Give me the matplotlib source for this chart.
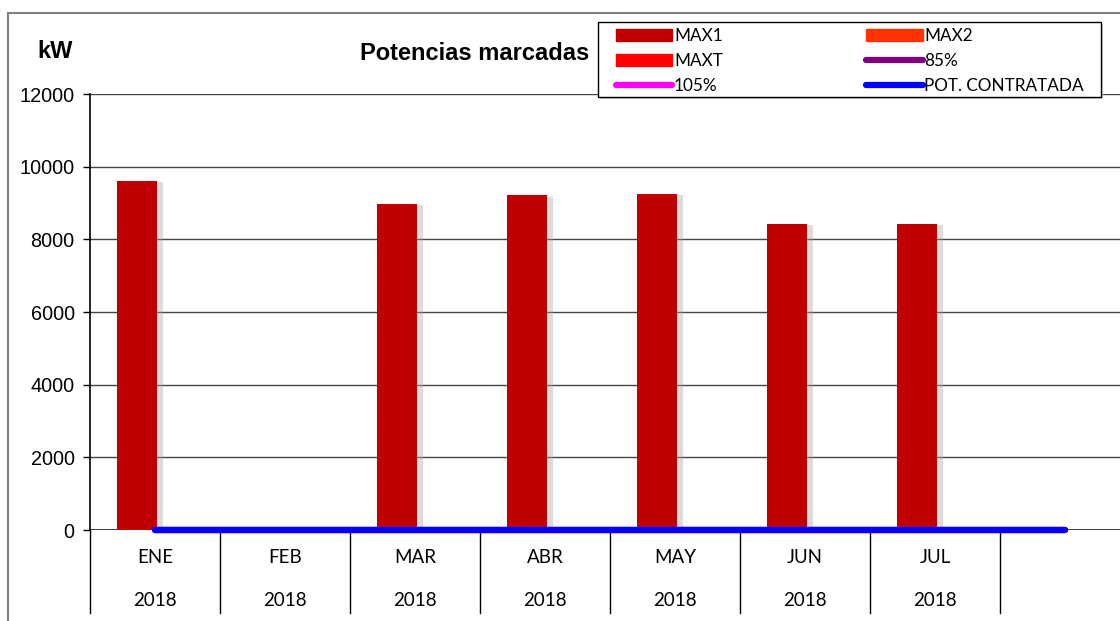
import matplotlib
matplotlib.use("Agg")
import matplotlib.pyplot as plt
import matplotlib.patheffects as pe
from matplotlib.patches import Patch, Rectangle
from matplotlib.lines import Line2D
from matplotlib.transforms import blended_transform_factory

# data
months = ["ENE", "FEB", "MAR", "ABR", "MAY", "JUN", "JUL", ""]
years = ["2018", "2018", "2018", "2018", "2018", "2018", "2018", ""]
max1 = [9610, 0, 8975, 9215, 9250, 8425, 8425]
max2 = [0, 0, 0, 0, 0, 0, 0]
maxt = [0, 0, 0, 0, 0, 0, 0]
pct85 = [0, 0, 0, 0, 0, 0, 0, 0]
pct105 = [0, 0, 0, 0, 0, 0, 0, 0]
pot_contratada = [0, 0, 0, 0, 0, 0, 0, 0]
yticks = [0, 2000, 4000, 6000, 8000, 10000, 12000]

c_max1 = "#C00000"
c_max2 = "#FF3300"
c_maxt = "#FF0000"
c_85 = "#800080"
c_105 = "#FF00FF"
c_pot = "#0000FF"

W, H = 1120, 621
fig = plt.figure(figsize=(W / 100, H / 100), dpi=100)
ax = fig.add_axes([90 / W, 91 / H, 1040 / W, 436 / H])

xs = range(len(max1))
shadow = [pe.SimplePatchShadow(offset=(4, -1), shadow_rgbFace="#a8a8a8", alpha=0.4), pe.Normal()]
bw = 0.31
ax.bar([x - 0.138 for x in xs], max1, width=bw, color=c_max1, zorder=3, path_effects=shadow)
ax.bar([x + 0.172 for x in xs], max2, width=bw, color=c_max2, zorder=3, linewidth=0)
ax.bar([x + 0.482 for x in xs], maxt, width=bw, color=c_maxt, zorder=3, linewidth=0)

xl = range(len(pot_contratada))
ax.plot(xl, pct85, color=c_85, lw=4.5, solid_capstyle="round", zorder=4, clip_on=False)
ax.plot(xl, pct105, color=c_105, lw=4.5, solid_capstyle="round", zorder=4, clip_on=False)
ax.plot(xl, pot_contratada, color=c_pot, lw=4.5, solid_capstyle="round", zorder=5, clip_on=False)

ax.set_xlim(-0.5, 7.5)
ax.set_ylim(0, 12000)
ax.set_yticks(yticks)
ax.set_yticklabels([str(v) for v in yticks], fontsize=14.3, family="Liberation Sans")
ax.set_xticks([])
ax.tick_params(axis="y", direction="out", length=5, width=1, pad=6)
ax.yaxis.grid(True, color="#444444", lw=1)
ax.set_axisbelow(True)
for s in ["top", "right", "bottom"]:
    ax.spines[s].set_visible(False)
ax.spines["left"].set_linewidth(1.2)
ax.axhline(0, color="#222222", lw=1.2, zorder=2)

# category table below the axis
tr = blended_transform_factory(ax.transData, ax.transAxes)
for i in range(len(months)):
    ax.text(i, -0.064, months[i], transform=tr, ha="center", va="center", fontsize=13.5, family="Lato")
    ax.text(i, -0.161, years[i], transform=tr, ha="center", va="center", fontsize=13.5, family="Lato")
for i in range(len(months)):
    ax.plot([i - 0.5, i - 0.5], [0, -0.19], transform=tr, color="black", lw=1, clip_on=False)

fig.text(55 / W, 1 - 52 / H, "kW", ha="center", va="center", fontsize=17, fontweight="bold", family="Liberation Sans")
fig.text(475 / W, 1 - 53 / H, "Potencias marcadas", ha="center", va="center", fontsize=17, fontweight="bold", family="Liberation Sans")

# outer chart border
fig.patches.append(Rectangle((8 / W, -0.1), 1.2, 1 - 13 / H + 0.1, transform=fig.transFigure,
                             fill=False, edgecolor="#808080", lw=1.5))

# legend frame drawn separately so the inner padding can differ per side
fig.patches.append(Rectangle((600 / W, 1 - 99 / H), 503 / W, 75 / H, transform=fig.transFigure,
                             facecolor="#d0d0d0", edgecolor="none", zorder=9))
fig.patches.append(Rectangle((598 / W, 1 - 97 / H), 503 / W, 75 / H, transform=fig.transFigure,
                             facecolor="white", edgecolor="black", lw=1, zorder=10))

handles = [
    Patch(color=c_max1, label="MAX1"),
    Patch(color=c_maxt, label="MAXT"),
    Line2D([], [], color=c_105, lw=4.5, solid_capstyle="round", label="105%"),
    Patch(color=c_max2, label="MAX2"),
    Line2D([], [], color=c_85, lw=4.5, solid_capstyle="round", label="85%"),
    Line2D([], [], color=c_pot, lw=4.5, solid_capstyle="round", label="POT. CONTRATADA"),
]
leg = fig.legend(handles=handles, ncol=2, loc="upper left", mode="expand",
                 bbox_to_anchor=(616 / W, 1 - 98 / H, 468 / W, 70 / H),
                 prop={"family": "Lato", "size": 12.3}, frameon=False,
                 handlelength=3.3, handletextpad=0.1, labelspacing=0.52, borderaxespad=0,
                 borderpad=0)
leg.set_zorder(11)

fig.savefig("out.png", dpi=100)
